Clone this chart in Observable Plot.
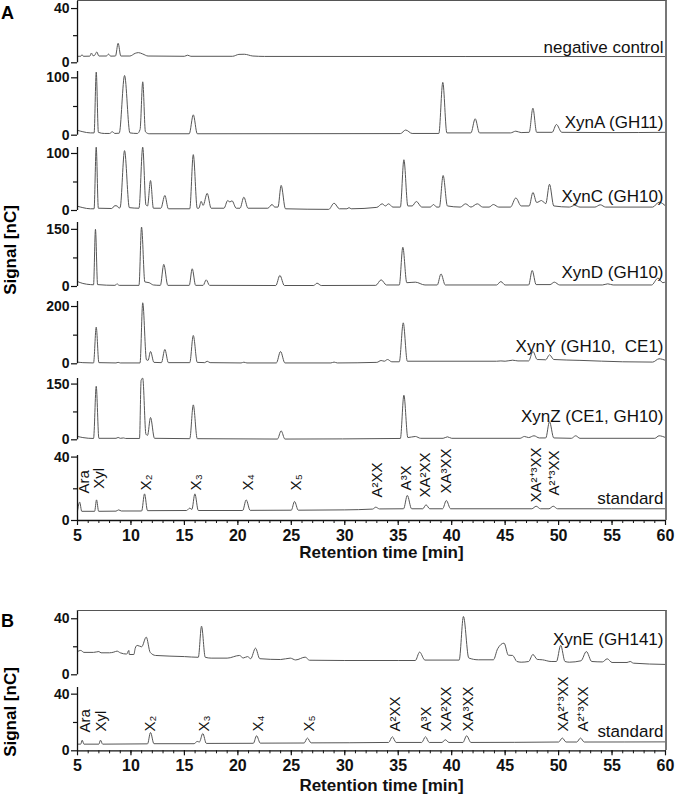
<!DOCTYPE html>
<html><head><meta charset="utf-8">
<script src="https://cdn.jsdelivr.net/npm/d3@7"></script>
<script src="https://cdn.jsdelivr.net/npm/@observablehq/plot@0.6"></script>
<style>
body{margin:0;background:#fff;font-family:"Liberation Sans",Arial,sans-serif;}
#fig{position:relative;width:675px;height:800px;overflow:hidden;background:#fff;}
.p{position:absolute;left:0;}
.frame{position:absolute;box-sizing:border-box;border-top:1.5px solid #555;border-right:2px solid #777;pointer-events:none;}
.panel{position:absolute;font-weight:bold;font-size:18px;line-height:1;}
.ylab{position:absolute;font-weight:bold;font-size:17px;white-space:nowrap;transform:translate(-50%,-50%) rotate(-90deg);}
</style></head><body><div id="fig"></div>
<script>
// ---------- data (retention time [min], signal [nC]) ----------
const xTicks = [5,10,15,20,25,30,35,40,45,50,55,60];
const xMinorTicks = [5,6,7,8,9,10,11,12,13,14,15,16,17,18,19,20,21,22,23,24,25,26,27,28,29,30,31,32,33,34,35,36,37,38,39,40,41,42,43,44,45,46,47,48,49,50,51,52,53,54,55,56,57,58,59,60];

const negControl = [[5,4.8],[5.3,4.8],[5.42,6.0],[5.55,4.8],[6.15,4.9],[6.3,7.2],[6.45,5.2],[6.6,5.5],[6.8,8.0],[7.0,5.0],[7.7,5.0],[7.9,6.4],[8.1,4.9],[8.55,5.0],[8.8,14.4],[9.05,5.0],[9.9,5.0],[10.4,7.0],[10.7,7.5],[11.1,6.5],[11.6,5.0],[15.0,4.8],[15.3,5.6],[15.6,4.8],[19.5,4.8],[20.1,6.2],[20.6,6.3],[21.4,5.0],[22.5,4.7],[60,4.6]];

const xynA = [[5,8.5],[5.5,6],[6.2,4],[6.55,4],[6.75,110],[6.95,5],[7.5,3],[8.0,3],[8.25,6],[8.5,3],[8.9,3.5],[9.4,104],[9.9,4],[10.6,3],[10.85,10],[11.1,93],[11.35,6],[11.7,2.5],[15.45,2.5],[15.83,35.5],[16.2,2.5],[35.2,2.8],[35.7,9],[36.3,3],[38.8,3],[39.17,92],[39.55,4],[41.8,4],[42.2,28.6],[42.6,4],[45.5,4],[46.0,7],[46.5,4.5],[47.25,5],[47.6,47],[47.95,5],[49.4,5],[49.8,18.6],[50.3,5],[55,4.5],[60,5]];

const xynC = [[5,7.5],[5.5,5],[6.2,3],[6.55,3],[6.75,111],[6.95,4],[8.2,3.5],[8.5,8.5],[8.7,8],[8.9,4],[9.0,6],[9.4,105],[9.85,5],[10.75,4],[11.1,111],[11.4,10],[11.55,8],[11.83,52.6],[12.1,4],[12.8,4],[13.17,26.3],[13.5,3],[15.5,3],[15.83,98],[16.2,4],[16.35,4],[16.57,16],[16.75,9],[17.13,30],[17.5,4],[18.7,4],[19.05,17.5],[19.25,15],[19.45,17],[19.85,4],[20.2,4],[20.56,23.4],[20.95,4],[22.8,4],[23.2,10.5],[23.45,6],[23.75,6],[24.05,44],[24.45,3],[28.5,2],[29.0,12.8],[29.5,3],[30.2,3],[30.4,5],[30.6,3],[33.0,5.5],[33.5,11.7],[33.8,8],[34.1,11.7],[34.5,6],[35.2,6],[35.53,89],[35.9,8],[36.3,8],[36.7,15.8],[37.2,6],[38.0,6],[38.3,10.5],[38.6,6],[38.85,6],[39.2,61.4],[39.6,8],[40.8,6],[41.3,11.7],[41.8,6],[42.4,11.7],[42.9,6],[43.5,6],[43.9,10.5],[44.4,6],[45.5,6],[46.0,22],[46.5,8],[47.25,8],[47.6,31.6],[47.95,14],[48.4,17.5],[48.8,12],[49.15,46],[49.55,8],[51,6],[51.5,9],[52,6],[53.4,6],[53.9,10],[54.4,6],[58.8,6],[59.4,14.6],[60,8]];

const xynD = [[5,13],[5.5,8],[6.2,5],[6.5,4.5],[6.68,150],[6.88,5],[8.5,3],[8.7,7],[8.9,3],[10.75,3],[10.99,156],[11.3,12],[11.7,10],[12.1,4],[12.75,3],[13.07,58],[13.45,3],[15.45,3],[15.73,46.5],[16.05,3],[16.75,3],[17.04,17.5],[17.35,3],[23.55,2.6],[23.93,29],[24.35,2.6],[27.1,2.6],[27.4,8.8],[27.8,2.6],[32.9,3],[33.4,17.5],[33.9,4],[35.1,4],[35.43,103],[35.8,10],[36.6,11.4],[37.5,4],[38.65,4],[39.0,33],[39.4,4],[44.2,4],[44.6,13],[45.0,4],[47.2,4],[47.53,42],[47.9,5],[49.2,5],[49.6,11.4],[50.1,4],[54.1,4],[54.6,7],[55.1,4],[58.7,4],[59.3,22],[59.75,10],[60,12]];

const xynY = [[5,6],[5.5,4],[6.5,3],[6.75,128],[7.0,4],[8.6,3],[8.8,5],[9.0,3],[10.85,3],[11.1,213],[11.45,14],[11.6,12],[11.83,43],[12.15,5],[12.85,4],[13.17,50],[13.5,4],[15.5,4],[15.83,99],[16.2,5],[16.9,4],[17.13,9],[17.4,4],[20.3,3],[20.56,5.6],[20.85,3],[23.6,3],[23.99,43],[24.4,3],[28.7,3],[29,6],[29.3,3],[33.0,5],[33.4,11.5],[33.7,9],[34.0,15],[34.4,7],[35.1,7],[35.47,143],[35.85,9],[44.2,9],[44.6,10],[45.0,9],[45.7,12.6],[46.2,10],[47.2,10],[47.6,43],[48.0,15],[48.8,14],[49.15,31.4],[49.55,15],[52,12],[56,7],[58.8,6],[59.4,17.5],[60,12]];

const xynZ = [[5,9],[5.5,6],[6.5,3.6],[6.75,144],[7.0,4],[8.6,4],[8.8,6.3],[9.0,4],[9.3,5],[9.5,3.6],[10.8,3.6],[10.95,160],[11.1,166],[11.4,15],[11.55,12],[11.83,60],[12.2,4],[15.5,3],[15.83,94],[16.2,3],[23.7,2],[24.05,24],[24.4,2],[35.2,3.6],[35.53,120],[35.9,6],[36.6,9],[37.1,4],[39.2,4],[39.6,8],[40.0,4],[46.4,4],[46.8,9],[47.2,6],[47.7,10.8],[48.2,5],[48.8,5],[49.15,48.5],[49.55,5],[51.2,4],[51.6,10.8],[52.0,4],[59.0,4],[59.4,10.8],[60,6]];

const standardA = [[5,6],[5.2,11.6],[5.4,5.8],[6.6,5.8],[6.78,13],[6.98,5.8],[8.6,5.9],[8.85,6.7],[9.1,6.0],[11.0,6.0],[11.27,16.8],[11.55,6.2],[15.2,6.3],[15.5,7.8],[15.7,7.0],[15.98,16.8],[16.3,6.3],[20.45,6.3],[20.78,13],[21.15,6.4],[25.0,6.5],[25.3,12],[25.65,6.5],[30,6.7],[32.6,7.2],[32.9,8.4],[33.25,7.3],[35.5,7.4],[35.85,15.8],[36.25,7.4],[37.3,7.4],[37.6,9.9],[37.95,7.4],[39.15,7.4],[39.5,12.6],[39.9,7.4],[47.5,7.4],[47.9,9],[48.3,7.4],[49.1,7.4],[49.5,9],[49.9,7.4],[60,7.4]];

const xynE = [[5,16.6],[5.3,17.4],[5.6,16],[6.5,16],[7.0,16.6],[7.2,15.7],[8.0,15.7],[8.4,16.2],[8.7,16.9],[9.0,15.7],[9.6,14.8],[9.8,17.4],[9.85,14.5],[10.27,14.5],[10.4,19],[10.58,21],[11.0,20],[11.43,26.9],[11.8,16],[12.3,13.8],[15.0,13],[16.3,12.5],[16.6,34.7],[16.95,12.5],[17.5,11.9],[19.0,11.9],[20.15,13.8],[20.5,12],[20.9,13],[21.2,11.5],[21.65,19],[22.05,11.5],[24.0,10.9],[24.9,11.9],[25.4,10.6],[26.3,12.6],[26.7,10.4],[30,10.2],[35,10.2],[36.6,10.2],[37.0,16.2],[37.5,10.5],[40.7,10.5],[41.1,41.6],[41.6,12],[42.5,10.7],[43.9,10.7],[44.3,18.6],[44.9,22.6],[45.3,14],[45.7,13.8],[46.1,9.5],[46.5,9],[47.2,9.5],[47.6,14.5],[48.0,11],[48.5,10.7],[49.3,9.5],[49.8,9.5],[50.2,21],[50.6,9.5],[51,9],[52.1,10],[52.6,16.6],[53.1,9.5],[54.1,9.2],[54.55,11.4],[55.0,8.8],[56.4,8.8],[56.7,9.5],[57,8.3],[60,7.4]];

const standardB = [[5,4.7],[5.3,4.7],[5.44,7.5],[5.6,4.7],[7.0,4.7],[7.15,7.5],[7.35,4.7],[11.55,4.9],[11.83,12.9],[12.15,5],[15.9,5],[16.2,6.6],[16.4,6.2],[16.72,12.2],[17.05,5.2],[21.45,5.3],[21.75,10.6],[22.1,5.4],[26.2,5.5],[26.5,9],[26.85,5.6],[34.1,5.9],[34.45,9.9],[34.8,5.9],[37.2,5.9],[37.55,9.9],[37.9,5.9],[39.1,5.9],[39.4,7.8],[39.75,5.9],[41.05,5.9],[41.4,10.6],[41.8,5.9],[50.0,6.2],[50.35,9],[50.7,6.2],[51.7,6.2],[52.05,9],[52.4,6.2],[60,6.3]];

// peak annotations of the standards
const peakNames = ["Ara","Xyl","X\u2082","X\u2083","X\u2084","X\u2085","A\u00b2XX","A\u00b3X","XA\u00b2XX","XA\u00b3XX","XA\u00b2\u207a\u00b3XX","A\u00b2\u207a\u00b3XX"];
const stdAPeakTimes = [5.6, 7.06, 11.4, 16.1, 20.95, 25.45, 33.0, 35.7, 37.55, 39.5, 47.9, 49.6];
const stdALabelBase = [17, 20, 19, 19, 19, 19, 14.5, 19, 14.5, 17, 11.4, 15.8];
const stdBPeakTimes = [5.72, 7.25, 11.83, 16.83, 21.9, 26.65, 34.75, 37.65, 39.5, 41.5, 50.45, 52.3];
const stdBLabelBase = [12.9, 13.6, 13.6, 13.6, 13.6, 13.6, 13.6, 13.6, 13.6, 13.6, 13.6, 13.6];

const traceNames = ["negative control","XynA (GH11)","XynC (GH10)","XynD (GH10)","XynY (GH10,\u00a0 CE1)","XynZ (CE1, GH10)","standard","XynE (GH141)","standard"];
const traceData = [negControl, xynA, xynC, xynD, xynY, xynZ, standardA, xynE, standardB];
const yMajorTicks = [[0,40],[0,100],[0,100],[0,150],[0,200],[0,150],[0,40],[0,40],[0,40]];
const yMinorTicks = [[20],[50],[50],[75],[100],[75],[20],[20],[20]];
const traceLabelY = [11.3, 22, 24.5, 37, 60, 62, 13.9, 25.2, 13.4];

// ---------- layout (pixel placement of each stacked trace) ----------
const layout = [
  {ymax:45.2, top:1, zero:62.3},
  {ymax:111, top:71, zero:134.7},
  {ymax:110.5, top:147, zero:210},
  {ymax:168, top:222, zero:286},
  {ymax:217.5, top:301, zero:363.3},
  {ymax:165, top:377.7, zero:439},
  {ymax:41, top:455, zero:520, axis:true, titleDy:37, names:stdAPeakTimes, base:stdALabelBase},
  {ymax:45.9, top:610, zero:674.3},
  {ymax:44.7, top:686.7, zero:750, axis:true, titleDy:40, names:stdBPeakTimes, base:stdBLabelBase}
];

const FONT = '"Liberation Sans", Arial, Helvetica, sans-serif';
const fig = document.getElementById("fig");

layout.forEach((L, i) => {
  const mt = 10, mb = L.axis ? 50 : 10;
  const h = (L.zero - L.top) + mt + mb;
  const marks = [
    Plot.line(traceData[i], {x: d => d[0], y: d => d[1], stroke: "#555", strokeWidth: 1, curve: "monotone-x"}),
    Plot.ruleX([5], {stroke: "#111", strokeWidth: 1.3}),
    Plot.axisY(yMajorTicks[i], {tickSize: 6, tickPadding: 2, fontSize: 14, fontWeight: "bold", label: null, strokeWidth: 1.2}),
    Plot.axisY(yMinorTicks[i], {tickSize: 4, tickFormat: () => "", label: null, strokeWidth: 1.2}),
    Plot.text([traceNames[i]], {x: 60, y: traceLabelY[i], text: d => d, textAnchor: "end", dx: -2, fontSize: 17, fill: "#111"})
  ];
  if (L.axis) {
    const labels = peakNames.map((n, k) => ({name: n, t: L.names[k], y: L.base[k]}));
    marks.push(
      Plot.ruleY([0], {stroke: "#111", strokeWidth: 1.3}),
      Plot.axisX(xTicks, {tickSize: 5, tickPadding: 4, fontSize: 16, fontWeight: "bold", label: null, strokeWidth: 1.2}),
      Plot.axisX(xMinorTicks, {tickSize: 3, tickFormat: () => "", label: null, strokeWidth: 1}),
      Plot.text(labels, {x: "t", y: "y", text: "name", rotate: -90, textAnchor: "start", fontSize: 15, fill: "#111"}),
      Plot.text(["Retention time [min]"], {frameAnchor: "bottom", text: d => d, dy: L.titleDy, dx: 10, fontSize: 17, fontWeight: "bold", fill: "#111"})
    );
  }
  const svg = Plot.plot({
    width: 675, height: h,
    marginLeft: 77, marginRight: 10, marginTop: mt, marginBottom: mb,
    x: {domain: [5, 60], axis: null},
    y: {domain: [0, L.ymax], axis: null},
    style: {fontFamily: FONT, overflow: "visible", background: "transparent", color: "#111"},
    marks
  });
  svg.classList.add("p");
  svg.style.top = (L.top - mt) + "px";
  fig.appendChild(svg);
});

// panel frames (top and right edges)
function frame(top, height) {
  const d = document.createElement("div");
  d.className = "frame";
  d.style.left = "77px"; d.style.top = top + "px";
  d.style.width = "589.5px"; d.style.height = height + "px";
  fig.appendChild(d);
}
frame(0, 520);
frame(609.5, 140.5);

function addText(cls, txt, x, y) {
  const d = document.createElement("div");
  d.className = cls; d.textContent = txt;
  d.style.left = x + "px"; d.style.top = y + "px";
  fig.appendChild(d);
}
addText("panel", "A", 1, 4);
addText("panel", "B", 1, 612);
addText("ylab", "Signal [nC]", 11, 250);
addText("ylab", "Signal [nC]", 11, 712);
</script>
</body></html>
